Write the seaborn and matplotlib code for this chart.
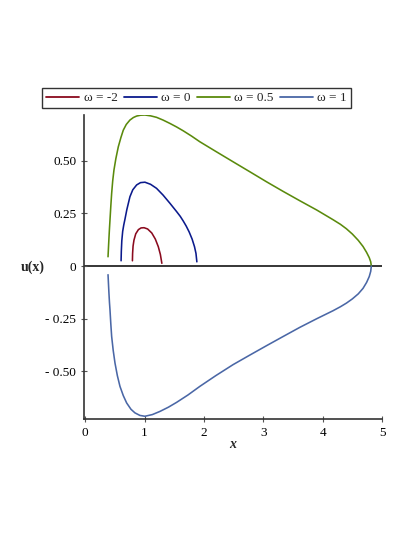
import numpy as np
import pandas as pd
import matplotlib
matplotlib.use("Agg")
import matplotlib.pyplot as plt
from matplotlib.lines import Line2D
import seaborn as sns

sns.set_style("white")
plt.rcParams['font.family'] = ['Liberation Serif', 'DejaVu Serif']

labels = ["ω = -2", "ω = 0", "ω = 0.5", "ω = 1"]
colors = ["#8a0a1e", "#0b1a8c", "#5a8a0c", "#4a67a6"]

# omega = -2 (red)
x_m2 = [0.794, 0.797, 0.805, 0.82, 0.85, 0.895, 0.94, 0.99, 1.05, 1.12, 1.18, 1.23, 1.265, 1.29]
u_m2 = [0.025, 0.06, 0.095, 0.123, 0.153, 0.173, 0.181, 0.182, 0.176, 0.157, 0.128, 0.092, 0.055, 0.013]

# omega = 0 (blue)
x_0 = [0.603, 0.607, 0.615, 0.63, 0.648, 0.668, 0.70, 0.752, 0.80, 0.865, 0.93, 1.005, 1.10, 1.20,
       1.31, 1.426, 1.54, 1.60, 1.65, 1.70, 1.75, 1.80, 1.84, 1.865, 1.88]
u_0 = [0.025, 0.07, 0.12, 0.165, 0.195, 0.222, 0.268, 0.329, 0.362, 0.385, 0.396, 0.398, 0.388, 0.369,
       0.337, 0.298, 0.258, 0.236, 0.214, 0.190, 0.162, 0.128, 0.092, 0.060, 0.020]

# omega = 0.5 (green)
x_05 = [0.383, 0.390, 0.398, 0.407, 0.416, 0.430, 0.444, 0.462, 0.483, 0.515, 0.556, 0.60, 0.64, 0.69,
        0.752, 0.81, 0.865, 0.93, 1.005, 1.10, 1.20, 1.31, 1.426, 1.54, 1.65, 1.79, 1.93, 2.20,
        2.49, 2.77, 3.054, 3.33, 3.615, 3.90, 4.175, 4.30, 4.40, 4.50, 4.60, 4.68, 4.74, 4.785, 4.81, 4.82]
u_05 = [0.044, 0.085, 0.13, 0.177, 0.219, 0.285, 0.345, 0.405, 0.456, 0.51, 0.566, 0.61, 0.645, 0.672,
        0.693, 0.705, 0.712, 0.716, 0.717, 0.713, 0.706, 0.693, 0.677, 0.660, 0.642, 0.617, 0.590, 0.544,
        0.495, 0.448, 0.400, 0.355, 0.310, 0.266, 0.220, 0.198, 0.177, 0.152, 0.122, 0.093, 0.065, 0.040, 0.020, 0.0]

# omega = 1 (light blue)
x_1 = [0.383, 0.390, 0.398, 0.407, 0.416, 0.430, 0.444, 0.47, 0.50, 0.54, 0.584, 0.64, 0.697, 0.77,
       0.837, 0.92, 1.005, 1.13, 1.258, 1.40, 1.539, 1.73, 1.931, 2.20, 2.49, 2.77, 3.054, 3.33,
       3.615, 3.90, 4.175, 4.30, 4.40, 4.50, 4.60, 4.68, 4.74, 4.785, 4.81, 4.82]
u_1 = [-0.041, -0.082, -0.127, -0.172, -0.208, -0.275, -0.334, -0.40, -0.46, -0.52, -0.571, -0.615, -0.650, -0.680,
       -0.697, -0.709, -0.713, -0.705, -0.690, -0.670, -0.647, -0.612, -0.571, -0.520, -0.468, -0.423, -0.378, -0.335,
       -0.291, -0.250, -0.212, -0.193, -0.176, -0.156, -0.132, -0.106, -0.078, -0.050, -0.025, 0.0]

frames = []
for lab, xs, us in zip(labels, [x_m2, x_0, x_05, x_1], [u_m2, u_0, u_05, u_1]):
    frames.append(pd.DataFrame({"x": xs, "u": us, "omega": lab}))
df = pd.concat(frames, ignore_index=True)

fig = plt.figure(figsize=(4.15, 5.37), dpi=100)
ax = fig.add_axes([84/415, 1 - 419/537, (382-84)/415, (419-115)/537])

sns.lineplot(data=df, x="x", y="u", hue="omega", hue_order=labels,
             palette=dict(zip(labels, colors)), sort=False, estimator=None,
             linewidth=1.15, ax=ax, legend=False)

ax.axhline(0, color="black", linewidth=1.1, zorder=0)

ax.set_xlim(-0.022, 5.0)
ax.set_ylim(-0.726, 0.717)
ax.set_xticks([0, 1, 2, 3, 4, 5])
ax.set_xticklabels(["0", "1", "2", "3", "4", "5"])
ax.set_yticks([-0.5, -0.25, 0, 0.25, 0.5])
ax.set_yticklabels(["- 0.50", "- 0.25", "0", "0.25", "0.50"])
for s in ["top", "right"]:
    ax.spines[s].set_visible(False)
for s in ["left", "bottom"]:
    ax.spines[s].set_color("#333333")
    ax.spines[s].set_linewidth(1.2)
ax.tick_params(axis="both", which="both", direction="inout", length=5, width=0.8,
               color="#555555", labelsize=9.5, labelcolor="black", pad=3,
               bottom=True, left=True)
ax.set_xlabel("")
ax.set_ylabel("")

fig.text(233/415, 1 - 445/537, "x", fontsize=10, fontweight="bold", fontstyle="italic",
         ha="center", va="center")
fig.text(33/415, 1 - 267/537, "u(x)", fontsize=10, fontweight="bold",
         ha="center", va="center")

handles = [Line2D([0], [0], color=c, linewidth=1.3) for c in colors]
leg = fig.legend(handles, labels, loc="center", bbox_to_anchor=(196.5/415, 1 - 98/537),
                 ncol=4, frameon=True, fancybox=False, fontsize=9.5, handlelength=2.5,
                 handletextpad=0.35, columnspacing=0.45, borderpad=0.3, borderaxespad=0)
leg.get_frame().set_edgecolor("black")
leg.get_frame().set_linewidth(1.0)

fig.savefig("out.png", dpi=100)
